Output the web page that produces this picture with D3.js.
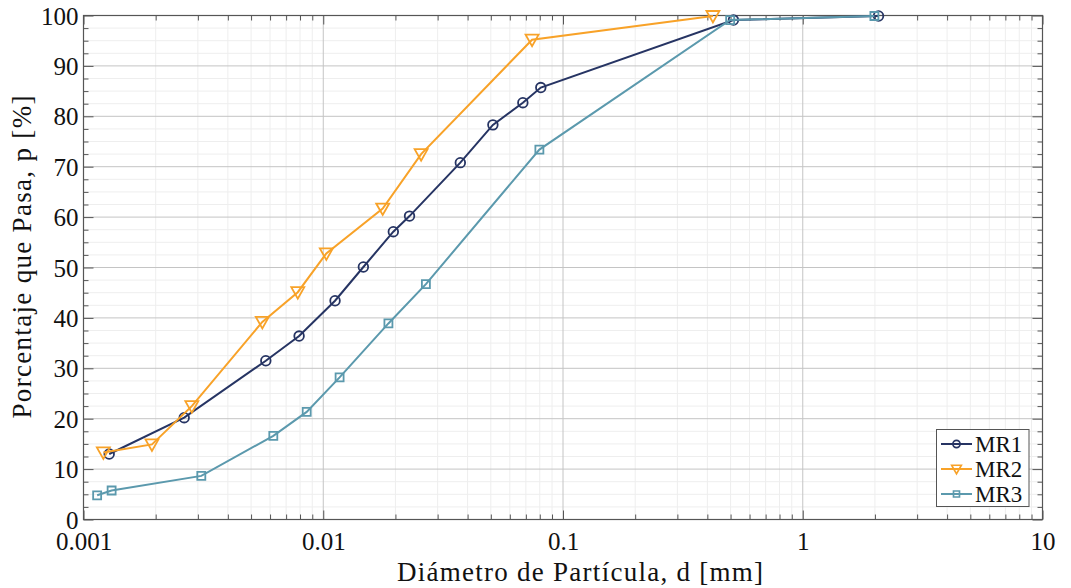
<!DOCTYPE html>
<html><head><meta charset="utf-8">
<script src="https://cdn.jsdelivr.net/npm/d3@7"></script>
<style>body{margin:0;background:#fff}svg{display:block}</style>
</head><body><svg id="c" width="1071" height="588"></svg>
<script>
const seriesNames = ["MR1", "MR2", "MR3"];
const seriesColors = ["#263463", "#f8a228", "#5b99ad"];
const mr1D = [0.00128, 0.00263, 0.00576, 0.00793, 0.0112, 0.0147, 0.0196, 0.0229, 0.0373, 0.0510, 0.0680, 0.0808, 0.514, 2.07];
const mr1P = [13.0, 20.2, 31.5, 36.4, 43.4, 50.1, 57.1, 60.2, 70.8, 78.3, 82.7, 85.7, 99.1, 99.9];
const mr2D = [0.00121, 0.00193, 0.00283, 0.00557, 0.00783, 0.0103, 0.0177, 0.0256, 0.0743, 0.422];
const mr2P = [13.3, 14.9, 22.5, 39.2, 45.1, 52.8, 61.7, 72.5, 95.2, 99.9];
const mr3D = [0.00114, 0.00131, 0.0031, 0.00619, 0.00853, 0.0117, 0.0187, 0.0268, 0.0797, 0.498, 1.99];
const mr3P = [4.8, 5.75, 8.65, 16.6, 21.35, 28.2, 38.9, 46.7, 73.4, 99.1, 99.9];
const xTickValues = [0.001, 0.01, 0.1, 1, 10];
const xTickLabels = ["0.001", "0.01", "0.1", "1", "10"];
const yTickValues = [0, 10, 20, 30, 40, 50, 60, 70, 80, 90, 100];
const xLabel = "Diámetro de Partícula, d [mm]";
const yLabel = "Porcentaje que Pasa, p [%]";

const FONT = "'Liberation Serif', 'DejaVu Serif', serif";
const L = 83.5, T = 15.5, R = 1042.5, B = 519.5;
const svg = d3.select("#c");
const x = d3.scaleLog().domain([0.001, 10]).range([L, R]);
const y = d3.scaleLinear().domain([0, 100]).range([B, T]);

const xMinor = [];
for (let e = -3; e < 1; e++) for (let k = 2; k <= 9; k++) xMinor.push(k * Math.pow(10, e));
const yMinor = d3.range(0, 100.01, 2.5).filter(v => v % 10 !== 0);

const g = svg.append("g");
g.selectAll(".xmg").data(xMinor).join("line")
  .attr("x1", d => x(d)).attr("x2", d => x(d)).attr("y1", T).attr("y2", B)
  .attr("stroke", "#eeeeee").attr("stroke-width", 1);
g.selectAll(".ymg").data(yMinor).join("line")
  .attr("y1", d => y(d)).attr("y2", d => y(d)).attr("x1", L).attr("x2", R)
  .attr("stroke", "#eeeeee").attr("stroke-width", 1);
g.selectAll(".xMg").data(xTickValues).join("line")
  .attr("x1", d => x(d)).attr("x2", d => x(d)).attr("y1", T).attr("y2", B)
  .attr("stroke", "#c4c4c4").attr("stroke-width", 1);
g.selectAll(".yMg").data(yTickValues).join("line")
  .attr("y1", d => y(d)).attr("y2", d => y(d)).attr("x1", L).attr("x2", R)
  .attr("stroke", "#c4c4c4").attr("stroke-width", 1);

const axColor = "#555";
function styleAxis(sel) {
  sel.select(".domain").remove();
  sel.selectAll("line").attr("stroke", axColor);
  sel.selectAll("text").attr("font-family", FONT).attr("font-size", 25).attr("fill", "#111");
}
const xb = svg.append("g").attr("transform", `translate(0,${B})`)
  .call(d3.axisBottom(x).tickValues(xTickValues).tickFormat((d, i) => xTickLabels[i]).tickSizeInner(-9))
  .call(styleAxis);
xb.selectAll(".tick text").attr("y", 30.5).attr("dy", "0");
svg.append("g").attr("transform", `translate(0,${B})`)
  .call(d3.axisBottom(x).tickValues(xMinor).tickFormat("").tickSizeInner(-5)).call(styleAxis);
svg.append("g").attr("transform", `translate(0,${T})`)
  .call(d3.axisTop(x).tickValues(xTickValues).tickFormat("").tickSizeInner(-9)).call(styleAxis);
svg.append("g").attr("transform", `translate(0,${T})`)
  .call(d3.axisTop(x).tickValues(xMinor).tickFormat("").tickSizeInner(-5)).call(styleAxis);
const yl = svg.append("g").attr("transform", `translate(${L},0)`)
  .call(d3.axisLeft(y).tickValues(yTickValues).tickSizeInner(-10))
  .call(styleAxis);
yl.selectAll(".tick text").attr("x", -5).attr("dy", "0.34em");
svg.append("g").attr("transform", `translate(${L},0)`)
  .call(d3.axisLeft(y).tickValues(yMinor).tickFormat("").tickSizeInner(-5)).call(styleAxis);
svg.append("g").attr("transform", `translate(${R},0)`)
  .call(d3.axisRight(y).tickValues(yTickValues).tickFormat("").tickSizeInner(-10)).call(styleAxis);
svg.append("g").attr("transform", `translate(${R},0)`)
  .call(d3.axisRight(y).tickValues(yMinor).tickFormat("").tickSizeInner(-5)).call(styleAxis);
svg.append("rect").attr("x", L).attr("y", T).attr("width", R - L).attr("height", B - T)
  .attr("fill", "none").attr("stroke", axColor).attr("stroke-width", 1.2);

const seriesData = [
  mr1D.map((d, i) => [d, mr1P[i]]),
  mr2D.map((d, i) => [d, mr2P[i]]),
  mr3D.map((d, i) => [d, mr3P[i]])
];
const line = d3.line().x(d => x(d[0])).y(d => y(d[1]));
const markerPath = [
  d3.symbol(d3.symbolCircle, Math.PI * 4.8 * 4.8)(),
  "M-6.5,-5L6.5,-5L0,6.5Z",
  "M-4,-4L4,-4L4,4L-4,4Z"
];
seriesData.forEach((data, i) => {
  const sg = svg.append("g");
  sg.append("path").datum(data).attr("d", line).attr("fill", "none")
    .attr("stroke", seriesColors[i]).attr("stroke-width", 2);
  sg.selectAll("path.m").data(data).join("path").attr("class", "m")
    .attr("transform", d => `translate(${x(d[0])},${y(d[1])})`)
    .attr("d", markerPath[i]).attr("fill", "none")
    .attr("stroke", seriesColors[i]).attr("stroke-width", 1.8);
});

svg.append("text").attr("x", 580).attr("y", 581).attr("text-anchor", "middle")
  .attr("font-family", FONT).attr("font-size", 27).attr("fill", "#111")
  .attr("textLength", 366).attr("lengthAdjust", "spacing").text(xLabel);
svg.append("text").attr("transform", "translate(31,257) rotate(-90)").attr("text-anchor", "middle")
  .attr("font-family", FONT).attr("font-size", 27).attr("fill", "#111")
  .attr("textLength", 323).attr("lengthAdjust", "spacing").text(yLabel);

const lg = svg.append("g");
lg.append("rect").attr("x", 936.5).attr("y", 429.5).attr("width", 92.5).attr("height", 77)
  .attr("fill", "#fff").attr("stroke", axColor).attr("stroke-width", 1);
seriesNames.forEach((n, i) => {
  const yy = 444 + i * 25;
  lg.append("line").attr("x1", 941).attr("x2", 972).attr("y1", yy).attr("y2", yy)
    .attr("stroke", seriesColors[i]).attr("stroke-width", 2);
  lg.append("path").attr("transform", `translate(956.5,${yy}) scale(0.75)`).attr("d", markerPath[i])
    .attr("fill", "none").attr("stroke", seriesColors[i]).attr("stroke-width", 2.2);
  lg.append("text").attr("x", 975).attr("y", yy + 8).attr("font-family", FONT).attr("font-size", 23)
    .attr("fill", "#111").text(n);
});
</script>
</body></html>
